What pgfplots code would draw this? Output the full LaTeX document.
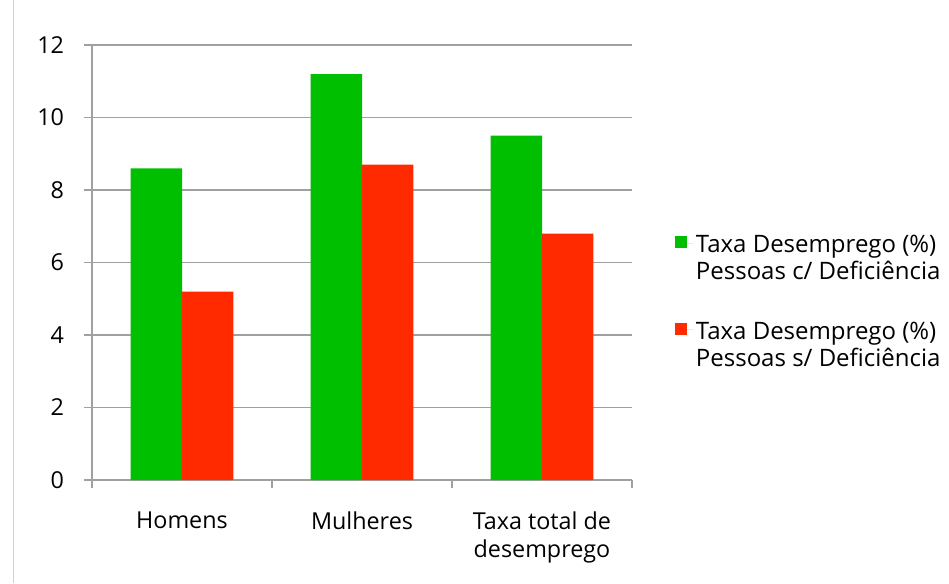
\documentclass[border=0pt]{standalone}
\usepackage{pgfplots}
\pgfplotsset{compat=1.18}
\usepackage{fontspec}
\setmainfont{Open Sans}
\definecolor{bargreen}{RGB}{0,191,0}
\definecolor{barred}{RGB}{255,42,0}
\definecolor{gridgray}{RGB}{160,160,160}
\begin{document}
\fontsize{17.5}{21}\selectfont
\begin{tikzpicture}[x=1pt,y=1pt]
\useasboundingbox (0,0) rectangle (711.75,437.25);
\draw[gray!35, line width=0.7pt] (9.75,0) -- (9.75,437.25);
\begin{axis}[
  at={(69pt,77.25pt)}, anchor=south west,
  scale only axis, width=405pt, height=326.25pt,
  xmin=-0.5, xmax=2.5, ymin=0, ymax=12,
  axis x line*=bottom, axis y line*=left,
  axis line style={gridgray, line width=1pt},
  ytick={0,2,...,12},
  ymajorgrids, grid style={gridgray, line width=1pt},
  xtick={0,1,2},
  xticklabels={Homens,Mulheres,{Taxa total de\\desemprego}},
  minor xtick={-0.5,0.5,1.5,2.5},
  tick align=outside,
  major tick length=6pt, minor tick length=6pt,
  major x tick style={draw=none},
  minor x tick style={gridgray, line width=1pt},
  y tick style={gridgray, line width=1pt},
  /pgf/number format/assume math mode=true,
  x tick label style={align=center, yshift=-12pt, font=\fontsize{17.5}{21}\selectfont},
  y tick label style={xshift=-9pt, font=\fontsize{17.5}{21}\selectfont},
  ybar=0pt, bar width=38.6pt,
  legend style={at={(1.071,0.408)}, anchor=west, draw=none, fill=none,
    row sep=25pt,
    nodes={align=left, font=\fontsize{18}{20.5}\selectfont}},
  legend cell align=left,
  legend image code/.code={\fill[#1] (0pt,8pt) rectangle (9pt,17pt); \path (0pt,12pt) -- (14pt,12pt);},
]
\addplot[fill=bargreen, draw=none] coordinates {(0,8.6) (1,11.2) (2,9.5)};
\addplot[fill=barred, draw=none] coordinates {(0,5.2) (1,8.7) (2,6.8)};
\legend{{Taxa Desemprego (\%)\\Pessoas c/ Deficiência},{Taxa Desemprego (\%)\\Pessoas s/ Deficiência}}
\end{axis}
\end{tikzpicture}
\end{document}
